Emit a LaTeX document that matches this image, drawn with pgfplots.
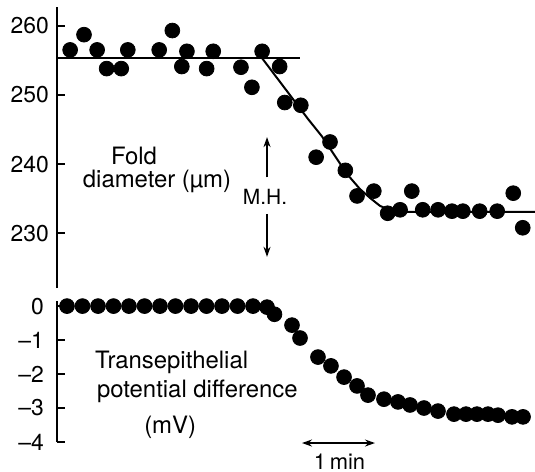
\documentclass[border=0pt]{standalone}
\usepackage{fontspec}
\setmainfont{TeX Gyre Heros}
\usepackage{pgfplots}
\pgfplotsset{compat=1.18}
\usetikzlibrary{arrows.meta}

% shared look of the two stacked panels (time axis in minutes, not drawn)
\pgfplotsset{
  panel/.style={
    scale only axis, width=239bp, xmin=0, xmax=6.548,
    axis x line=none, axis y line*=left,
    axis line style={line width=1.3bp, black},
    tick align=inside, major tick length=4bp,
    ytick style={line width=1bp, black},
    xtick=\empty, clip=false,
    tick label style={font=\fontsize{11.5}{13}\selectfont},
    /pgf/number format/assume math mode=true,
  },
  dots/.style={only marks, mark=*, mark size=3.7bp, black},
}

\begin{document}
\begin{tikzpicture}
\useasboundingbox (-28.5bp,-92bp) rectangle (239bp,144bp);

% fold diameter
\begin{axis}[panel, at={(0,0)}, anchor=south west, height=140.5bp,
    ymin=222.1, ymax=262.7, ytick={230,240,250,260},
    yticklabel style={xshift=-0.5bp}]
\addplot[dots] coordinates {
  (0.18,256.5) (0.37,258.7) (0.55,256.5) (0.68,253.8) (0.88,253.8)
  (0.97,256.5) (1.40,256.5) (1.58,259.3) (1.71,254.1) (1.78,256.3)
  (2.05,253.8) (2.14,256.3) (2.52,254.0) (2.67,251.1) (2.81,256.3)
  (3.05,254.1) (3.12,248.9) (3.34,248.5) (3.55,241.0) (3.74,243.2)
  (3.95,239.1) (4.11,235.4) (4.34,236.1) (4.53,232.9) (4.70,233.4)
  (4.86,236.1) (5.01,233.4) (5.22,233.4) (5.41,233.2) (5.56,233.2)
  (5.79,233.2) (6.03,233.2) (6.25,235.8) (6.38,230.8)
};
\addplot[black, line width=1bp] coordinates {(0,255.3) (3.33,255.3)};
\addplot[black, line width=1bp] coordinates {
  (2.81,255.3) (3.44,246.5) (3.63,244.0) (3.97,238.6) (4.15,236.4)
  (4.29,235.1) (4.42,234.0) (4.56,233.3) (4.70,233.1) (6.548,233.1)
};
\node[font=\fontsize{12}{14}\selectfont] at (1.055,241.15) {Fold};
\node[font=\fontsize{12}{14}\selectfont] at (1.37,237.55) {diameter (µm)};
\node[font=\fontsize{10.5}{12}\selectfont] at (2.85,235.25) {M.H.};
\draw[-{Stealth[length=5bp,width=3.5bp]}, line width=0.8bp]
  (2.877,238.1) -- (2.877,243.9);
\draw[-{Stealth[length=5bp,width=3.5bp]}, line width=0.8bp]
  (2.877,232.8) -- (2.877,226.6);
\end{axis}

% transepithelial potential difference
\begin{axis}[panel, at={(0,-77bp)}, anchor=south west, height=70.5bp,
    ymin=-4, ymax=0.15, ytick={-4,-3,-2,-1,0},
    yticklabels={–4,–3,–2,–1,0},
    yticklabel style={xshift=-3bp}]
\addplot[dots] coordinates {
  (0.137,0) (0.349,0) (0.562,0) (0.774,0) (0.986,0) (1.199,0) (1.411,0)
  (1.623,0) (1.836,0) (2.048,0) (2.260,0) (2.473,0) (2.685,0)
  (2.877,-0.03) (2.979,-0.24) (3.219,-0.56) (3.329,-0.94) (3.575,-1.50)
  (3.753,-1.76) (3.932,-2.09) (4.110,-2.35) (4.260,-2.62) (4.479,-2.74)
  (4.671,-2.82) (4.836,-2.91) (5.027,-3.00) (5.219,-3.09) (5.438,-3.18)
  (5.603,-3.18) (5.753,-3.18) (5.904,-3.18) (6.041,-3.21) (6.233,-3.26)
  (6.384,-3.26)
};
\node[anchor=west, font=\fontsize{12}{14}\selectfont] at (0.425,-1.65) {Transepithelial};
\node[anchor=west, font=\fontsize{12}{14}\selectfont] at (0.452,-2.5) {potential difference};
\node[font=\fontsize{12}{14}\selectfont] at (1.55,-3.56) {(mV)};
\draw[{Stealth[length=5bp,width=3.5bp]}-{Stealth[length=5bp,width=3.5bp]}, line width=0.8bp]
  (3.356,-4.03) -- (4.356,-4.03);
\node[font=\fontsize{11}{13}\selectfont] at (3.87,-4.59) {1\,min};
\end{axis}
\end{tikzpicture}
\end{document}
